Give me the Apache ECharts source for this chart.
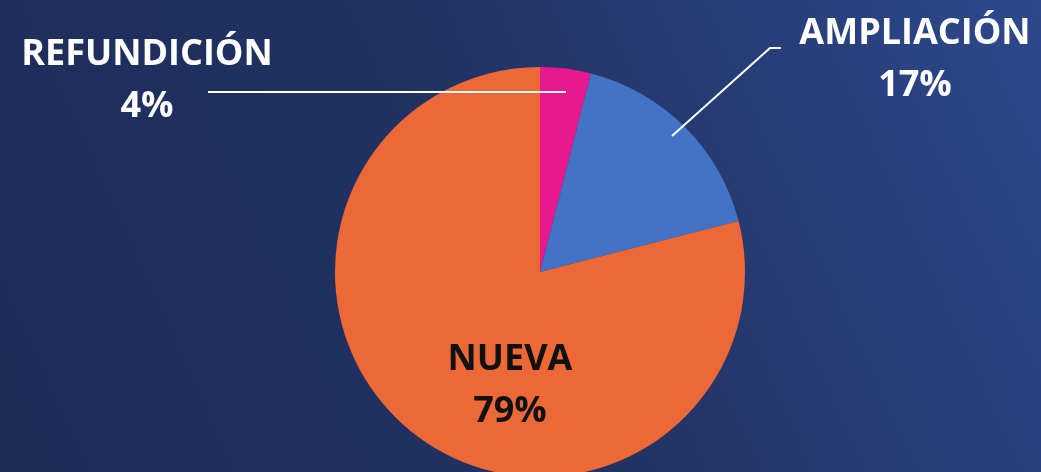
<!DOCTYPE html>
<html>
<head>
<meta charset="utf-8">
<script src="https://cdn.jsdelivr.net/npm/echarts@6/dist/echarts.min.js"></script>
<style>
  html, body { margin: 0; padding: 0; }
  #chart { width: 1041px; height: 472px; }
</style>
</head>
<body>
<div id="chart"></div>
<script>
// datos del gráfico
const categories = ["REFUNDICIÓN", "AMPLIACIÓN", "NUEVA"]
const values = [4, 17, 79]
const sliceColors = ["#E8198E", "#4472C4", "#EC6837"]

const chart = echarts.init(document.getElementById("chart"))

// posiciones de las etiquetas (centro del bloque de texto) y líneas guía
const labelPos = [
  { x: 147, y: 81, line: [[566, 92], [387, 92], [208, 92]] },
  { x: 915, y: 60, line: [[672, 136], [770, 48], [781, 48]] },
  { x: 510, y: 386, line: null }
]

const textRich = (color) => ({
  n: { fontSize: 36, fontWeight: "bold", color: color, lineHeight: 52, fontFamily: "Open Sans" },
  p: { fontSize: 36, fontWeight: "bold", color: color, lineHeight: 52, fontFamily: "Open Sans" }
})

const pieBase = {
  type: "pie",
  center: [540, 272],
  radius: 205,
  startAngle: 90,
  clockwise: true,
  percentPrecision: 0,
  avoidLabelOverlap: false,
  silent: true
}

const option = {
  backgroundColor: new echarts.graphic.LinearGradient(0, 1, 1, 0, [
    { offset: 0, color: "#1c2c59" },
    { offset: 0.5, color: "#213363" },
    { offset: 1, color: "#2d488b" }
  ]),
  textStyle: { fontFamily: "Open Sans" },
  series: [
    // sectores
    Object.assign({}, pieBase, {
      z: 2,
      label: { show: false },
      labelLine: { show: false },
      data: categories.map((name, i) => ({ name: name, value: values[i], itemStyle: { color: sliceColors[i] } }))
    }),
    // etiquetas y líneas guía por encima de los sectores
    Object.assign({}, pieBase, {
      z: 5,
      itemStyle: { color: "rgba(0,0,0,0)" },
      label: {
        show: true,
        formatter: "{n|{b}}\n{p|{d}%}",
        rich: textRich("#ffffff")
      },
      labelLine: {
        show: true,
        lineStyle: { color: "#ffffff", width: 2 }
      },
      labelLayout: function (params) {
        const p = labelPos[params.dataIndex]
        const out = { x: p.x, y: p.y, align: "center", verticalAlign: "middle" }
        if (p.line) out.labelLinePoints = p.line
        return out
      },
      data: categories.map((name, i) => {
        const item = { name: name, value: values[i] }
        if (i === 2) {
          item.label = { rich: textRich("#111111") }
          item.labelLine = { show: false }
        }
        return item
      })
    })
  ]
}

chart.setOption(option)
</script>
</body>
</html>
